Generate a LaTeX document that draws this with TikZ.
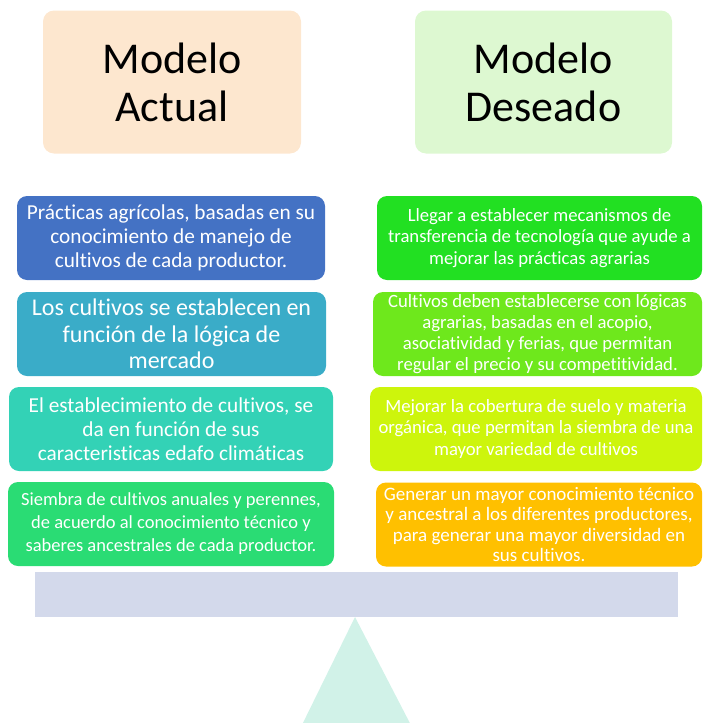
\documentclass[tikz,border=0pt]{standalone}
\usepackage{fontspec}
\setmainfont{Carlito}[Ligatures=CommonOff]
\definecolor{peach}{HTML}{FDE7CF}
\definecolor{mint}{HTML}{DDF8D1}
\definecolor{cA}{HTML}{4472C4}
\definecolor{cB}{HTML}{3AACC8}
\definecolor{cC}{HTML}{33D2B6}
\definecolor{cD}{HTML}{2ADC74}
\definecolor{dA}{HTML}{22E022}
\definecolor{dB}{HTML}{6EE81C}
\definecolor{dC}{HTML}{CDF50C}
\definecolor{dD}{HTML}{FFC000}
\definecolor{barc}{HTML}{D3D9EB}
\definecolor{tric}{HTML}{D1F2E8}
\begin{document}
\begin{tikzpicture}[x=1pt,y=-1pt,
  head/.style={rounded corners=11pt, minimum height=143pt, inner sep=0pt, align=center,
    font=\fontsize{44}{48}\selectfont, text=black},
  lbox/.style={rounded corners=10pt, minimum height=84pt, inner sep=0pt, align=center,
    text=white, font=\fontsize{21.3}{24.3}\selectfont},
  rbox/.style={rounded corners=10pt, minimum height=84pt, inner sep=0pt, align=center,
    text=white, font=\fontsize{18.7}{21.2}\selectfont}]
\useasboundingbox (0,0) rectangle (703,723);
% headers
\node[head, fill=peach, minimum width=258pt] (ha) at (172,82) {Modelo\\Actual};
\node[head, fill=mint, minimum width=257pt] (hd) at (543.5,82) {Modelo\\Deseado};
% left column
\node[lbox, fill=cA, minimum width=308pt] (l1) at (171,238) {Prácticas agrícolas, basadas en su\\conocimiento de manejo de\\cultivos de cada productor.};
\node[lbox, fill=cB, minimum width=309pt, font=\fontsize{24}{26.5}\selectfont] (l2) at (171.5,334) {Los cultivos se establecen en\\función de la lógica de\\mercado};
\node[lbox, fill=cC, minimum width=324pt] (l3) at (171,429) {El establecimiento de cultivos, se\\da en función de sus\\caracteristicas edafo climáticas};
\node[lbox, fill=cD, minimum width=326pt, font=\fontsize{18.5}{23}\selectfont] (l4) at (171,524) {Siembra de cultivos anuales y perennes,\\de acuerdo al conocimiento técnico y\\saberes ancestrales de cada productor.};
% right column
\node[rbox, fill=dA, minimum width=325pt] (r1) at (539.5,238) {Llegar a establecer mecanismos de\\transferencia de tecnología que ayude a\\mejorar las prácticas agrarias};
\node[rbox, fill=dB, minimum width=329pt] (r2) at (537.5,334) {Cultivos deben establecerse con lógicas\\agrarias, basadas en el acopio,\\asociatividad y ferias, que permitan\\regular el precio y su competitividad.};
\node[rbox, fill=dC, minimum width=332pt] (r3) at (536,429) {Mejorar la cobertura de suelo y materia\\orgánica, que permitan la siembra de una\\mayor variedad de cultivos};
\node[rbox, fill=dD, minimum width=326pt, font=\fontsize{19}{20.4}\selectfont] (r4) at (539,524.5) {Generar un mayor conocimiento técnico\\y ancestral a los diferentes productores,\\para generar una mayor diversidad en\\sus cultivos.};
% balance
\node[fill=barc, minimum width=643pt, minimum height=45pt, inner sep=0pt] (bar) at (356.5,594.5) {};
\coordinate (apex) at (355,617);
\fill[tric] (apex) -- (299,731) -- (414,731) -- cycle;
\end{tikzpicture}
\end{document}
